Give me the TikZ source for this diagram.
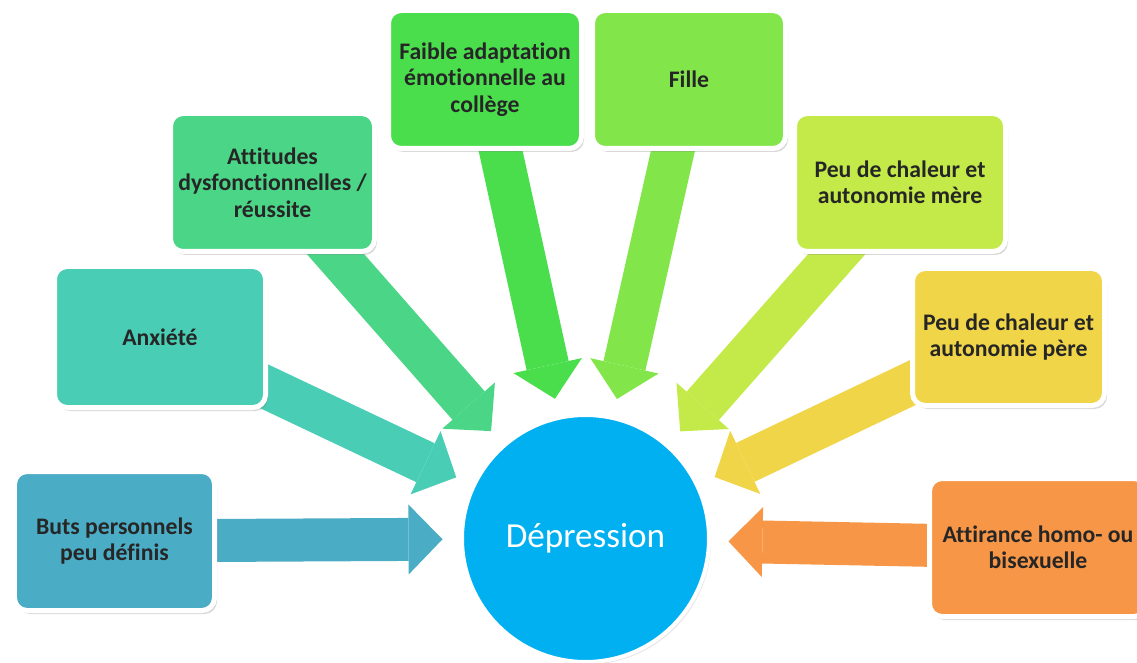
\documentclass[tikz,border=0pt]{standalone}
\usepackage{fontspec}
\setmainfont{Carlito}[Ligatures=NoCommon]
\usetikzlibrary{arrows.meta,shadows,backgrounds}

\definecolor{ButsCol}{HTML}{4BACC6}
\definecolor{AnxCol}{HTML}{49CEB5}
\definecolor{AttCol}{HTML}{4BD586}
\definecolor{AdaptCol}{HTML}{4ADE4D}
\definecolor{FilleCol}{HTML}{82E64A}
\definecolor{MereCol}{HTML}{C3EA48}
\definecolor{PereCol}{HTML}{F0D548}
\definecolor{AttirCol}{HTML}{F79646}
\definecolor{DepCol}{HTML}{00B0F0}
\definecolor{TextCol}{HTML}{262626}

\tikzset{
  factor/.style={draw=white, line width=0.1cm, rounded corners=0.25cm, fill=#1,
    align=center, text=TextCol, font=\fontsize{13.5}{15}\selectfont\bfseries,
    drop shadow={shadow xshift=0.05cm, shadow yshift=-0.07cm, opacity=0.3}},
  flow/.style={draw=#1, line width=0.86cm,
    -{Triangle[length=0.68cm, width=1.4cm, line width=0pt]}, shorten >=0.35cm}
}

\begin{document}
\begin{tikzpicture}
        \useasboundingbox (0,0) rectangle (22.74,13.24);

        \node[factor=ButsCol, minimum width=4.0cm, minimum height=2.78cm] (Buts) at (2.29,2.42) {Buts personnels\\peu définis};
        \node[factor=AnxCol, minimum width=4.22cm, minimum height=2.82cm] (Anxiete) at (3.2,6.5) {Anxiété};
        \node[factor=AttCol, minimum width=4.08cm, minimum height=2.76cm] (Attitudes) at (5.45,9.59) {Attitudes\\dysfonctionnelles /\\réussite};
        \node[factor=AdaptCol, minimum width=3.86cm, minimum height=2.76cm] (Adaptation) at (9.70,11.65) {Faible adaptation\\émotionnelle au\\collège};
        \node[factor=FilleCol, minimum width=3.86cm, minimum height=2.76cm] (Fille) at (13.78,11.65) {Fille};
        \node[factor=MereCol, minimum width=4.22cm, minimum height=2.76cm] (Mere) at (18.0,9.59) {Peu de chaleur et\\autonomie mère};
        \node[factor=PereCol, minimum width=3.84cm, minimum height=2.74cm] (Pere) at (20.17,6.5) {Peu de chaleur et\\autonomie père};
        \node[factor=AttirCol, minimum width=4.34cm, minimum height=2.76cm] (Attirance) at (20.76,2.29) {Attirance homo- ou\\bisexuelle};

        \node[circle, draw=white, line width=0.08cm, fill=DepCol, minimum size=4.94cm,
              text=white, font=\fontsize{20}{24}\selectfont,
              drop shadow={shadow xshift=0.04cm, shadow yshift=-0.05cm, opacity=0.2}] (Depression) at (11.71,2.47) {Dépression};

        \begin{scope}[on background layer]
        \draw[flow=ButsCol] (Buts.center) -- (Depression);
        \draw[flow=AnxCol] (Anxiete.center) -- (Depression);
        \draw[flow=AttCol] (Attitudes.center) -- (Depression);
        \draw[flow=AdaptCol] (Adaptation.center) -- (Depression);
        \draw[flow=FilleCol] (Fille.center) -- (Depression);
        \draw[flow=MereCol] (Mere.center) -- (Depression);
        \draw[flow=PereCol] (Pere.center) -- (Depression);
        \draw[flow=AttirCol] (Attirance.center) -- (Depression);
        \end{scope}
\end{tikzpicture}
\end{document}
